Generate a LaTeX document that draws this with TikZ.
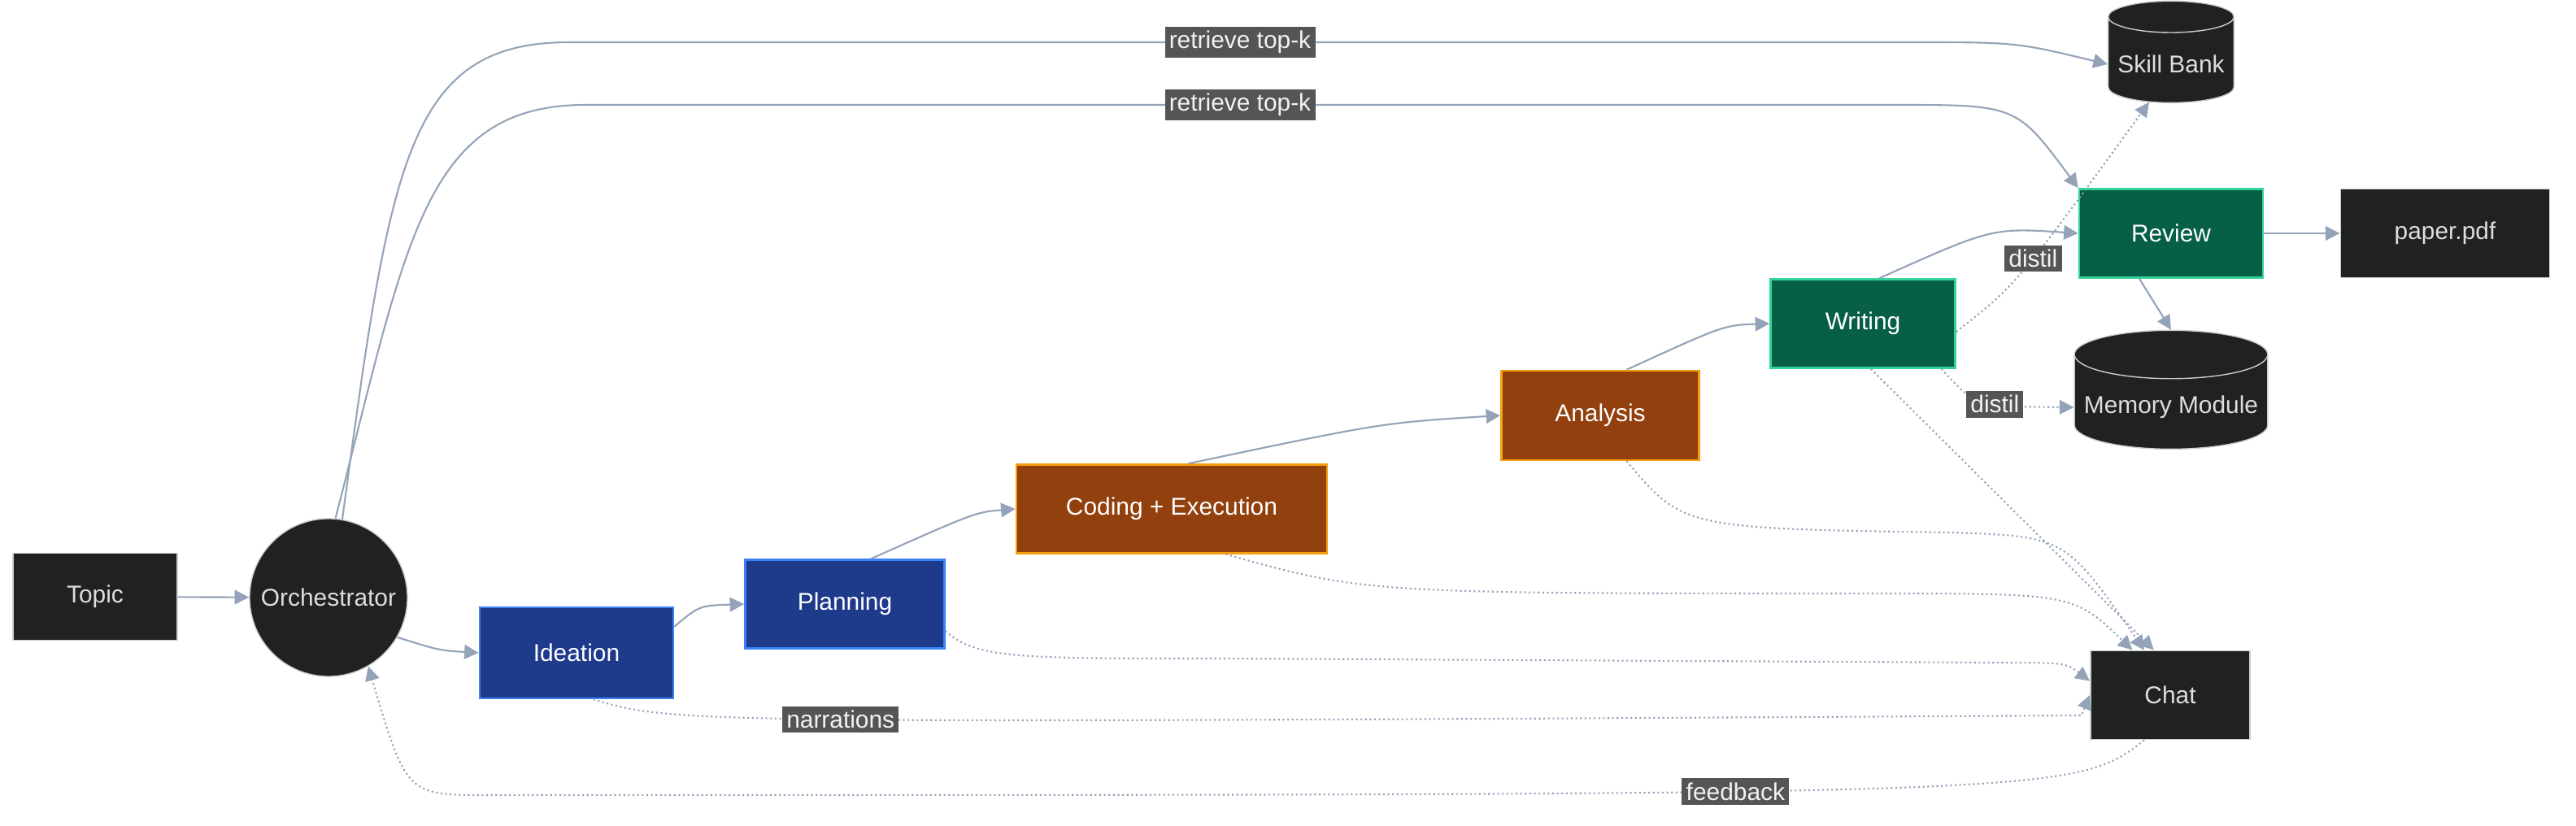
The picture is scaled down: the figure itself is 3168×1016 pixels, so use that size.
\documentclass[tikz,border=0pt]{standalone}
\usepackage{fontspec}
\setmainfont{Liberation Sans}
\usetikzlibrary{shapes.geometric, arrows.meta}
\definecolor{nodedark}{HTML}{202121}
\definecolor{nodetext}{HTML}{DDDDDD}
\definecolor{stageblue}{HTML}{1E3A8A}
\definecolor{stageblueedge}{HTML}{3B82F6}
\definecolor{stageorange}{HTML}{92400E}
\definecolor{stageorangeedge}{HTML}{F59E0B}
\definecolor{stagegreen}{HTML}{065F46}
\definecolor{stagegreenedge}{HTML}{34D399}
\definecolor{edgegray}{HTML}{94A3B8}
\definecolor{labelbg}{HTML}{555555}

\begin{document}
\begin{tikzpicture}[
    x=0.01cm, y=-0.01cm,
    font=\fontsize{8.5}{10}\selectfont,
    dark/.style={rectangle, draw=gray!40, fill=nodedark, text=nodetext, line width=0.5pt},
    stage/.style={rectangle, text=white, line width=0.7pt, minimum height=1.1cm},
    blue/.style={stage, draw=stageblueedge, fill=stageblue},
    orange/.style={stage, draw=stageorangeedge, fill=stageorange},
    green/.style={stage, draw=stagegreenedge, fill=stagegreen},
    store/.style={cylinder, shape border rotate=90, aspect=0.25, draw=gray!40, fill=nodedark, text=nodetext},
    edge/.style={-{Triangle[length=5pt, width=5pt]}, draw=edgegray, line width=0.6pt},
    soft/.style={edge, densely dotted},
    lbl/.style={fill=labelbg, text=white!90!gray, inner sep=1.5pt}
]
    \useasboundingbox (0,0) rectangle (3168,1016);

    % Nodes
    \node[dark, minimum width=2.02cm, minimum height=1.07cm] (topic) at (117,734) {Topic};
    \node[circle, fill=nodedark, draw=gray!40, text=nodetext, minimum size=1.94cm, inner sep=0pt] (orch) at (404,735) {Orchestrator};
    \node[blue, minimum width=2.38cm, minimum height=1.12cm] (idea) at (709,803) {Ideation};
    \node[blue, minimum width=2.45cm, minimum height=1.09cm] (plan) at (1039,743) {Planning};
    \node[orange, minimum width=3.82cm, minimum height=1.09cm] (code) at (1441,626) {Coding + Execution};
    \node[orange, minimum width=2.43cm, minimum height=1.1cm] (anal) at (1968,511) {Analysis};
    \node[green, minimum width=2.27cm, minimum height=1.09cm] (write) at (2291,398) {Writing};
    \node[green, minimum width=2.26cm, minimum height=1.09cm] (review) at (2670,287) {Review};
    \node[dark, minimum width=2.57cm, minimum height=1.09cm] (paper) at (3007,287) {paper.pdf};
    \node[store, minimum width=1.53cm, minimum height=1.25cm] (skill) at (2670,79) {Skill Bank};
    \node[store, minimum width=2.37cm, minimum height=1.46cm] (mem) at (2670,501) {Memory Module};
    \node[dark, minimum width=1.96cm, minimum height=1.09cm] (chat) at (2669,855) {Chat};

    % Main flow
    \draw[edge] (topic) -- (orch);
    \draw[edge] (orch.-30) .. controls (540,800) .. (idea.west);
    \draw[edge] (idea.15) .. controls (860,745) .. (plan.west);
    \draw[edge] (plan.60) .. controls (1200,630) .. (code.west);
    \draw[edge] (code.70) .. controls (1700,520) .. (anal.west);
    \draw[edge] (anal.60) .. controls (2120,400) .. (write.west);
    \draw[edge] (write.70) .. controls (2450,280) .. (review.west);
    \draw[edge] (review) -- (paper);
    \draw[edge] (review.-125) -- (mem.north);

    % Skill retrieval
    \draw[edge] (orch.80) .. controls (480,200) and (500,52) .. (700,52)
        -- node[lbl] {retrieve top-k} (2350,52) .. controls (2480,52) .. (skill.west);
    \draw[edge] (orch.85) .. controls (500,300) and (520,129) .. (720,129)
        -- node[lbl] {retrieve top-k} (2330,129) .. controls (2480,129) .. (review.north west);

    % Distillation
    \draw[soft] (write.-5) .. controls (2480,350) .. node[lbl, pos=0.55] {distil} (skill.-120);
    \draw[soft] (write.-30) .. controls (2430,500) .. node[lbl, pos=0.6] {distil} (mem.west);

    % Narrations to chat
    \draw[soft] (idea.-70) .. controls (830,890) .. node[lbl, pos=0.5] {narrations} (2560,880) -- (chat.west);
    \draw[soft] (plan.-15) .. controls (1200,810) and (1250,810) .. (1500,810) -- (2450,815) .. controls (2540,815) .. (chat.170);
    \draw[soft] (code.-40) .. controls (1680,730) .. (2300,730) .. controls (2550,730) .. (chat.130);
    \draw[soft] (anal.-60) .. controls (2070,650) .. (2400,655) .. controls (2540,660) .. (chat.120);
    \draw[soft] (write.-80) -- (chat.110);
    \draw[soft] (chat.-120) .. controls (2550,978) .. node[lbl, pos=0.6] {feedback} (600,978) .. controls (500,978) .. (orch.-60);
\end{tikzpicture}
\end{document}
